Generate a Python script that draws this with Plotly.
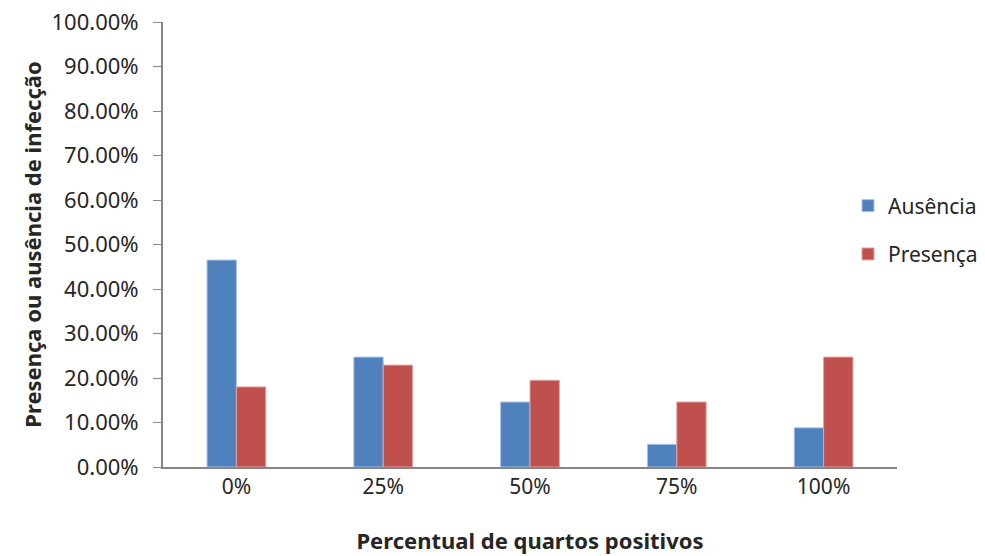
import plotly.graph_objects as go

categories = ["0%", "25%", "50%", "75%", "100%"]
ausencia = [46.5, 24.7, 14.6, 5.1, 8.8]
presenca = [18.0, 22.9, 19.5, 14.6, 24.7]
yticks = [0, 10, 20, 30, 40, 50, 60, 70, 80, 90, 100]
yticklabels = [f"{v:.2f}%" for v in yticks]

font_family = "Noto Sans"

fig = go.Figure()
fig.add_trace(go.Bar(x=categories, y=ausencia, name="Ausência",
                     marker=dict(color="#4F81BD", line=dict(color="#A9C3E6", width=1)),
                     legendgroup="a"))
fig.add_trace(go.Bar(x=categories, y=presenca, name="Presença",
                     marker=dict(color="#C0504D", line=dict(color="#E3A3A1", width=1)),
                     legendgroup="b"))

fig.update_layout(
    width=985, height=556,
    margin=dict(l=163, r=88, t=22, b=89, autoexpand=False),
    paper_bgcolor="white", plot_bgcolor="white",
    barmode="group", bargap=0.6, bargroupgap=0,
    font=dict(family=font_family, size=21, color="#262626"),
    legend=dict(x=848/985, y=1 - 230/556, xref="container", yref="container",
                xanchor="left", yanchor="middle",
                font=dict(size=21, color="#262626"),
                tracegroupgap=18, traceorder="grouped",
                itemwidth=30, bgcolor="rgba(0,0,0,0)"),
    xaxis=dict(showline=True, linecolor="#868686", linewidth=2,
               ticks="", showgrid=False,
               tickfont=dict(size=21),
               title=dict(text="<b>Percentual de quartos positivos</b>",
                          font=dict(size=22, color="#262626"), standoff=34)),
    yaxis=dict(range=[0, 100], tickvals=yticks, ticktext=yticklabels,
               showline=True, linecolor="#868686", linewidth=2,
               ticks="outside", ticklen=8, tickcolor="#868686", tickwidth=1,
               ticklabelstandoff=10,
               showgrid=False, zeroline=False,
               tickfont=dict(size=22),
               title=dict(text="<b>Presença ou ausência de infecção</b>",
                          font=dict(size=22, color="#262626"), standoff=4)),
)

fig.write_html("out.html")
